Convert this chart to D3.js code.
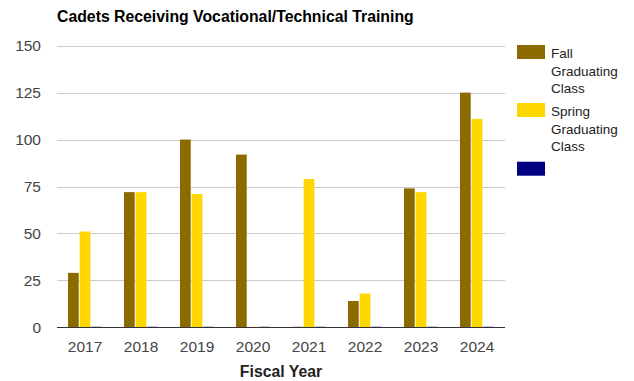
<!DOCTYPE html>
<html>
<head>
<meta charset="utf-8">
<script src="https://cdn.jsdelivr.net/npm/d3@7"></script>
<style>
  html, body { margin: 0; padding: 0; background: #fff; }
  svg { display: block; font-family: "Liberation Sans", Arial, sans-serif; }
</style>
</head>
<body>
<svg id="chart" width="634" height="381"></svg>
<script>
// Fiscal years on the x axis
const years = ["2017", "2018", "2019", "2020", "2021", "2022", "2023", "2024"];
// Cadets per graduating class
const fallClass   = [29, 72, 100, 92, 0, 14, 74, 125];
const springClass = [51, 72, 71, 0, 79, 18, 72, 111];
const thirdSeries = [0, 0, 0, 0, 0, 0, 0, 0];
const yTicks = [0, 25, 50, 75, 100, 125, 150];

const seriesNames = ["Fall Graduating Class", "Spring Graduating Class", ""];
const seriesColors = ["#8b6a00", "#ffd700", "#000080"];
const seriesValues = [fallClass, springClass, thirdSeries];

const svg = d3.select("#chart");
const plot = { left: 57, right: 505, top: 45.7, bottom: 327.3 };

const x = d3.scaleBand().domain(years).range([plot.left, plot.right])
  .paddingInner(0.393).paddingOuter(0.1965);
const xs = d3.scaleBand().domain(d3.range(seriesValues.length))
  .range([0, x.bandwidth()]).paddingInner(0.08);
const y = d3.scaleLinear().domain([0, 150]).range([plot.bottom, plot.top]);

// Title
svg.append("text").attr("x", 57).attr("y", 21.5)
  .attr("font-size", 15.8).attr("font-weight", "bold").attr("fill", "#000")
  .text("Cadets Receiving Vocational/Technical Training");

// Gridlines
svg.append("g").selectAll("line").data(yTicks.filter(d => d > 0)).join("line")
  .attr("x1", plot.left).attr("x2", plot.right)
  .attr("y1", d => Math.round(y(d)) + 0.5).attr("y2", d => Math.round(y(d)) + 0.5)
  .attr("stroke", "#cccccc").attr("stroke-width", 1);

// Y axis labels
const yAxis = d3.axisLeft(y).tickValues(yTicks).tickSize(0).tickPadding(0);
const gy = svg.append("g").attr("transform", "translate(41,0)").call(yAxis);
gy.select(".domain").remove();
gy.selectAll("text").attr("font-size", 15.5).attr("fill", "#444")
  .attr("font-family", "'Liberation Sans', Arial, sans-serif").attr("dy", "0.34em");

// Bars
const groups = svg.append("g").selectAll("g").data(years).join("g")
  .attr("transform", d => `translate(${x(d)},0)`);
groups.selectAll("rect")
  .data((d, i) => seriesValues.map((vals, s) => ({ s, v: vals[i] })))
  .join("rect")
  .attr("x", d => xs(d.s))
  .attr("width", xs.bandwidth())
  .attr("y", d => d.v > 0 ? y(d.v) : y(0) - 1)
  .attr("height", d => d.v > 0 ? y(0) - y(d.v) : 1)
  .attr("fill", d => seriesColors[d.s])
  .attr("opacity", d => d.v > 0 ? 1 : 0.35);

// Baseline
svg.append("line").attr("x1", plot.left).attr("x2", plot.right)
  .attr("y1", Math.round(y(0)) + 0.5).attr("y2", Math.round(y(0)) + 0.5)
  .attr("stroke", "#333").attr("stroke-width", 1);

// X axis labels
const xAxis = d3.axisBottom(x).tickSize(0).tickPadding(0);
const gx = svg.append("g").attr("transform", "translate(0,351.5)").call(xAxis);
gx.select(".domain").remove();
gx.selectAll("text").attr("font-size", 15.5).attr("fill", "#444")
  .attr("font-family", "'Liberation Sans', Arial, sans-serif").attr("dy", 0);

// X axis title
svg.append("text").attr("x", (plot.left + plot.right) / 2).attr("y", 376.5)
  .attr("text-anchor", "middle").attr("font-size", 15.8).attr("font-weight", "bold")
  .attr("fill", "#222").text("Fiscal Year");

// Legend
const legendTops = [45, 103, 161.7];
const legend = svg.append("g").selectAll("g").data(seriesNames).join("g")
  .attr("transform", (d, i) => `translate(517,${legendTops[i]})`);
legend.append("rect").attr("width", 28).attr("height", 14)
  .attr("fill", (d, i) => seriesColors[i]);
legend.append("text").attr("x", 34).attr("y", 13.2)
  .attr("font-size", 13.5).attr("fill", "#222")
  .each(function (d) {
    const words = d.split(" ").filter(w => w);
    d3.select(this).selectAll("tspan").data(words).join("tspan")
      .attr("x", 34).attr("dy", (w, j) => j === 0 ? 0 : 17.5).text(w => w);
  });
</script>
</body>
</html>
